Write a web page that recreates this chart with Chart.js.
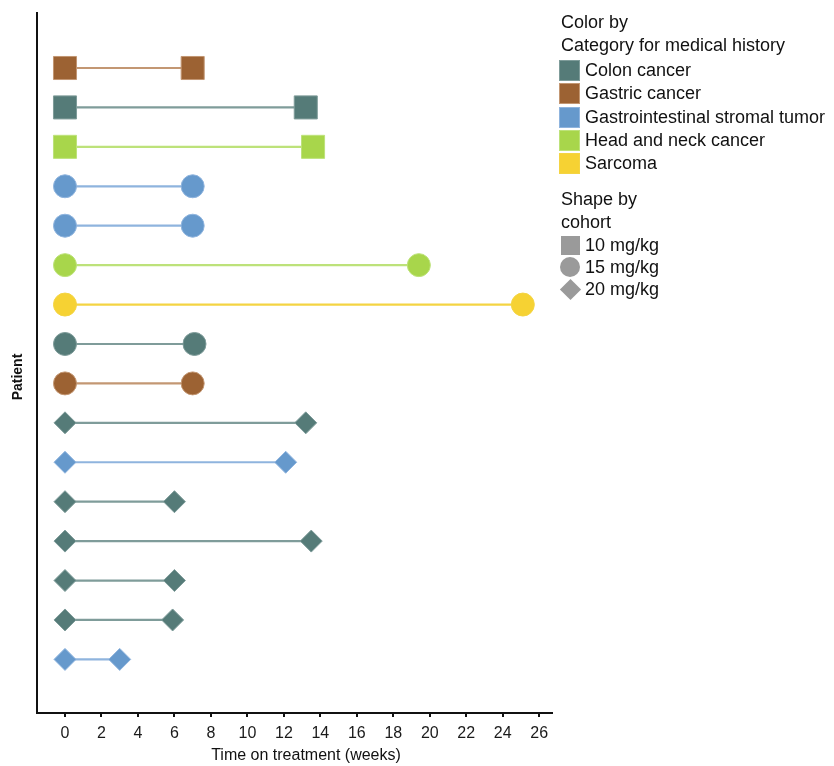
<!DOCTYPE html>
<html lang="en">
<head>
  <meta charset="UTF-8">
  <title>Time on treatment by patient</title>
  <script src="https://cdn.jsdelivr.net/npm/chart.js"></script>
  <style>
    html, body { margin: 0; padding: 0; background: #fff; }
    #wrap { position: relative; width: 834px; height: 766px; font-family: "Liberation Sans", Arial, sans-serif; color: #111; }
    #chart { position: absolute; left: 0; top: 0; }
    .lg { position: absolute; left: 585px; font-size: 18px; line-height: 20px; white-space: nowrap; }
    .lg.head { left: 561px; }
    .sw { position: absolute; left: 559px; width: 21px; height: 21px; box-sizing: border-box; }
  </style>
</head>
<body>
<div id="wrap">
  <canvas id="chart" width="834" height="766"></canvas>
  <div id="legend"></div>
</div>

<script>
  // Patients from top to bottom
  const patients = [1, 2, 3, 4, 5, 6, 7, 8, 9, 10, 11, 12, 13, 14, 15, 16];
  const history = [
    'Gastric cancer', 'Colon cancer', 'Head and neck cancer',
    'Gastrointestinal stromal tumor', 'Gastrointestinal stromal tumor',
    'Head and neck cancer', 'Sarcoma', 'Colon cancer', 'Gastric cancer',
    'Colon cancer', 'Gastrointestinal stromal tumor', 'Colon cancer',
    'Colon cancer', 'Colon cancer', 'Colon cancer', 'Gastrointestinal stromal tumor'
  ];
  const cohort = [
    '10 mg/kg', '10 mg/kg', '10 mg/kg',
    '15 mg/kg', '15 mg/kg', '15 mg/kg', '15 mg/kg', '15 mg/kg', '15 mg/kg',
    '20 mg/kg', '20 mg/kg', '20 mg/kg', '20 mg/kg', '20 mg/kg', '20 mg/kg', '20 mg/kg'
  ];
  const startWeek = [0, 0, 0, 0, 0, 0, 0, 0, 0, 0, 0, 0, 0, 0, 0, 0];
  const endWeek = [7.0, 13.2, 13.6, 7.0, 7.0, 19.4, 25.1, 7.1, 7.0, 13.2, 12.1, 6.0, 13.5, 6.0, 5.9, 3.0];
  const xTicks = [0, 2, 4, 6, 8, 10, 12, 14, 16, 18, 20, 22, 24, 26];

  const categories = ['Colon cancer', 'Gastric cancer', 'Gastrointestinal stromal tumor', 'Head and neck cancer', 'Sarcoma'];
  const cohorts = ['10 mg/kg', '15 mg/kg', '20 mg/kg'];

  const fill = {
    'Colon cancer': '#557b78',
    'Gastric cancer': '#9c6233',
    'Gastrointestinal stromal tumor': '#6699cc',
    'Head and neck cancer': '#a8d64b',
    'Sarcoma': '#f6d233'
  };
  const lineCol = {
    'Colon cancer': '#7f9c9a',
    'Gastric cancer': '#c39773',
    'Gastrointestinal stromal tumor': '#8fb4de',
    'Head and neck cancer': '#bde27a',
    'Sarcoma': '#f4d443'
  };
  const shape = { '10 mg/kg': 'rect', '15 mg/kg': 'circle', '20 mg/kg': 'rectRot' };
  const radius = { '10 mg/kg': 16.3, '15 mg/kg': 11.5, '20 mg/kg': 11 };

  const datasets = patients.map((p, i) => ({
    label: 'Patient ' + p,
    data: [{ x: startWeek[i], y: p }, { x: endWeek[i], y: p }],
    borderColor: lineCol[history[i]],
    borderWidth: 2.2,
    pointStyle: shape[cohort[i]],
    pointRadius: radius[cohort[i]],
    pointBackgroundColor: fill[history[i]],
    pointBorderColor: lineCol[history[i]],
    pointBorderWidth: 1
  }));

  const fontFam = '"Liberation Sans", Arial, sans-serif';

  // axis titles, placed where the reference has them
  const axisTitles = {
    id: 'axisTitles',
    afterDraw(chart) {
      const c = chart.ctx;
      c.save();
      c.fillStyle = '#111';
      c.textAlign = 'center';
      c.textBaseline = 'middle';
      c.font = '16px ' + fontFam;
      c.fillText('Time on treatment (weeks)', 306, 756);
      c.translate(18, 377);
      c.rotate(-Math.PI / 2);
      c.font = 'bold 14px ' + fontFam;
      c.fillText('Patient', 0, 0);
      c.restore();
    }
  };

  new Chart(document.getElementById('chart'), {
    type: 'line',
    data: { datasets },
    options: {
      responsive: false,
      animation: false,
      layout: { autoPadding: false, padding: { top: 13, right: 282, left: 0, bottom: 0 } },
      plugins: { legend: { display: false }, tooltip: { enabled: false } },
      scales: {
        x: {
          type: 'linear',
          min: -1.535,
          max: 26.7,
          afterBuildTicks: s => { s.ticks = xTicks.map(v => ({ value: v })); },
          afterFit: s => { s.height = 53; },
          grid: { drawOnChartArea: false, drawTicks: true, tickLength: 4, color: '#111', lineWidth: 2 },
          border: { color: '#111', width: 2 },
          ticks: { color: '#1a1a1a', padding: 7, font: { size: 16, family: fontFam } }
        },
        y: {
          type: 'linear',
          reverse: true,
          min: -0.395,
          max: 17.36,
          afterFit: s => { s.width = 37; },
          grid: { display: false },
          border: { color: '#111', width: 2 },
          ticks: { display: false }
        }
      }
    },
    plugins: [axisTitles]
  });

  // Legend
  const lg = document.getElementById('legend');
  function text(t, top, cls) {
    const d = document.createElement('div');
    d.className = 'lg' + (cls ? ' ' + cls : '');
    d.style.top = top + 'px';
    d.textContent = t;
    lg.appendChild(d);
  }
  text('Color by', 12, 'head');
  text('Category for medical history', 35, 'head');
  categories.forEach((c, i) => {
    const top = 60 + i * 23.3;
    const s = document.createElement('div');
    s.className = 'sw';
    s.style.top = top + 'px';
    s.style.background = fill[c];
    s.style.border = '1px solid ' + lineCol[c];
    lg.appendChild(s);
    text(c, top);
  });
  text('Shape by', 189, 'head');
  text('cohort', 212, 'head');
  cohorts.forEach((c, i) => {
    const top = 235 + i * 22;
    const s = document.createElement('div');
    s.style.position = 'absolute';
    s.style.background = '#9a9a9a';
    if (shape[c] === 'rect') {
      Object.assign(s.style, { left: '561px', top: (top + 1) + 'px', width: '19px', height: '19px' });
    } else if (shape[c] === 'circle') {
      Object.assign(s.style, { left: '560px', top: (top + 0) + 'px', width: '20px', height: '20px', borderRadius: '50%' });
    } else {
      Object.assign(s.style, { left: '563px', top: (top + 3) + 'px', width: '15px', height: '15px', transform: 'rotate(45deg)' });
    }
    lg.appendChild(s);
    text(c, top);
  });
</script>
</body>
</html>
